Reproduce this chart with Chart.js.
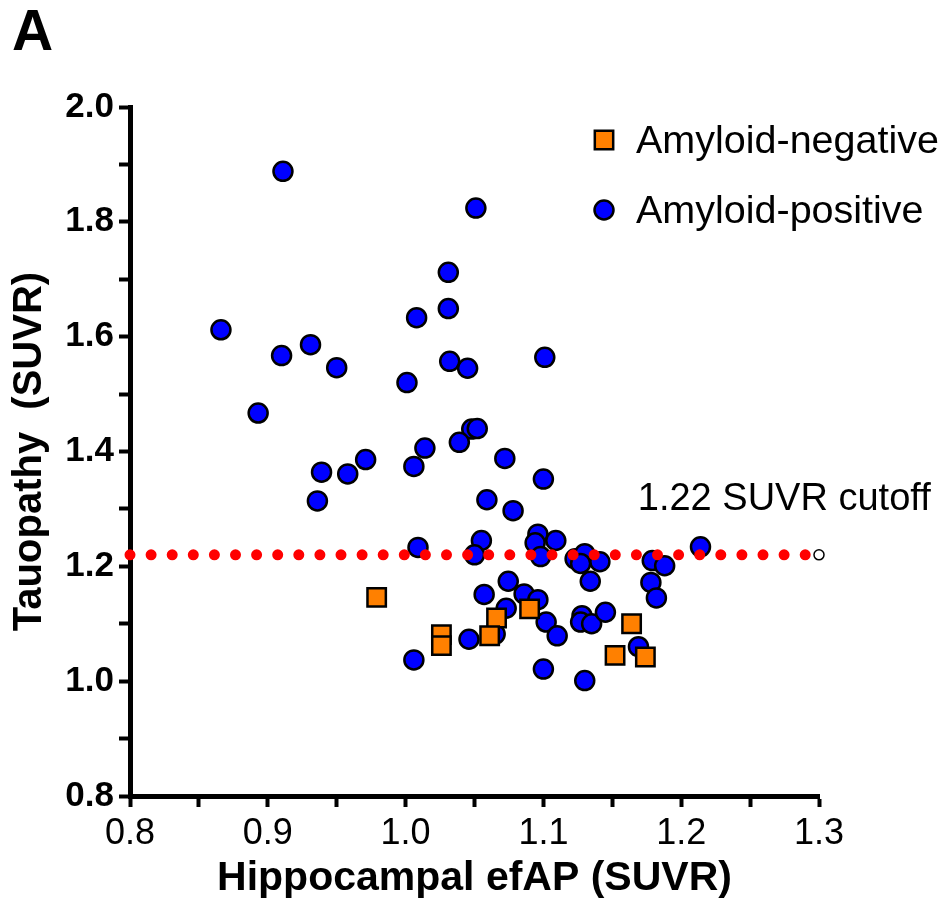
<!DOCTYPE html>
<html>
<head>
<meta charset="utf-8">
<script src="https://cdn.jsdelivr.net/npm/chart.js@4.4.0/dist/chart.umd.min.js"></script>
<style>
  html, body { margin: 0; padding: 0; background: #fff; }
  #wrap { width: 950px; height: 911px; }
</style>
</head>
<body>
<div id="wrap"><canvas id="chart" width="950" height="911"></canvas></div>
<script>
// values
const negLabel = 'Amyloid-negative';
const negX = [0.979, 1.026, 1.026, 1.066, 1.061, 1.090, 1.164, 1.152, 1.174];
const negY = [1.146, 1.081, 1.062, 1.110, 1.079, 1.126, 1.100, 1.045, 1.042];

const posLabel = 'Amyloid-positive';
const posX = [0.911, 0.866, 0.910, 0.931, 0.950, 0.893, 0.939, 0.958, 0.971, 0.936,
              1.001, 1.008, 1.031, 1.031, 1.032, 1.045, 1.051, 1.101, 1.048, 1.052,
              1.014, 1.039, 1.006, 1.072, 1.100, 1.059, 1.078, 1.009, 1.055, 1.050,
              1.096, 1.094, 1.109, 1.098, 1.123, 1.130, 1.127, 1.141, 1.134, 1.0745,
              1.057, 1.086, 1.096, 1.073, 1.065, 1.102, 1.110, 1.046, 1.006, 1.100,
              1.130, 1.128, 1.127, 1.135, 1.145, 1.179, 1.188, 1.178, 1.182, 1.169,
              1.214];
const posY = [1.888, 1.612, 1.567, 1.586, 1.546, 1.467, 1.364, 1.361, 1.386, 1.314,
              1.520, 1.633, 1.712, 1.649, 1.557, 1.545, 1.824, 1.564, 1.439, 1.440,
              1.406, 1.416, 1.374, 1.388, 1.352, 1.316, 1.297, 1.233, 1.245, 1.220,
              1.256, 1.241, 1.245, 1.217, 1.213, 1.222, 1.205, 1.208, 1.174, 1.174,
              1.151, 1.152, 1.142, 1.127, 1.082, 1.103, 1.079, 1.073, 1.037, 1.021,
              1.001, 1.114, 1.103, 1.100, 1.120, 1.210, 1.201, 1.172, 1.145, 1.060,
              1.234];

const cutoff = 1.22;
const cutoffX = [0.8, 1.3];
const cutoffLabel = '1.22 SUVR cutoff';

const xTicks = [0.8, 0.9, 1.0, 1.1, 1.2, 1.3];
const xMinorTicks = [0.85, 0.95, 1.05, 1.15, 1.25];
const yTicks = [0.8, 1.0, 1.2, 1.4, 1.6, 1.8, 2.0];
const yMinorTicks = [0.9, 1.1, 1.3, 1.5, 1.7, 1.9];

const FONT = '"Liberation Sans", Arial, sans-serif';

function toPoints(xs, ys) {
  return xs.map((x, i) => ({ x: x, y: ys[i] }));
}

function setTicks(major, minor) {
  return function (scale) {
    scale.ticks = major.concat(minor).sort((a, b) => a - b).map(v => ({ value: v }));
  };
}

function majorLabel(major) {
  return function (v) {
    return major.some(m => Math.abs(m - v) < 1e-6) ? v.toFixed(1) : '';
  };
}

// panel letter, cutoff text and the legend
const extras = {
  id: 'extras',
  afterDraw(chart) {
    const ctx = chart.ctx;
    const xs = chart.scales.x, ys = chart.scales.y;
    ctx.save();
    ctx.fillStyle = '#000';
    ctx.textAlign = 'left';
    ctx.textBaseline = 'alphabetic';

    ctx.font = 'bold 57px ' + FONT;
    ctx.fillText('A', 12, 50);

    ctx.font = '38px ' + FONT;
    ctx.fillText(cutoffLabel, xs.getPixelForValue(1.1685), ys.getPixelForValue(cutoff) - 45);

    // legend
    const rows = [chart.data.datasets[1], chart.data.datasets[2]];
    rows.forEach((ds, i) => {
      const y = 140 + i * 70;
      ctx.fillStyle = ds.backgroundColor;
      ctx.strokeStyle = ds.borderColor;
      ctx.lineWidth = ds.borderWidth;
      Chart.helpers.drawPoint(ctx, {
        pointStyle: ds.pointStyle, radius: ds.pointRadius, rotation: 0, borderWidth: ds.borderWidth
      }, 604, y);
      ctx.fillStyle = '#000';
      ctx.font = '39.5px ' + FONT;
      ctx.fillText(ds.label, 636, y + 13);
    });
    ctx.restore();
  }
};

new Chart(document.getElementById('chart'), {
  type: 'scatter',
  data: {
    datasets: [
      {
        type: 'line',
        label: 'cutoff',
        data: cutoffX.map(x => ({ x: x, y: cutoff })),
        borderColor: '#ff0000',
        borderWidth: 11,
        borderDash: [0, 21.1],
        borderCapStyle: 'round',
        pointRadius: [0, 5],
        pointBackgroundColor: '#fff',
        pointBorderColor: '#000',
        pointBorderWidth: 1.5,
        fill: false,
        clip: false,
        order: 0
      },
      {
        label: negLabel,
        data: toPoints(negX, negY),
        pointStyle: 'rect',
        pointRadius: 13,
        backgroundColor: '#ff8000',
        borderColor: '#000',
        borderWidth: 2.5,
        order: 1
      },
      {
        label: posLabel,
        data: toPoints(posX, posY),
        pointStyle: 'circle',
        pointRadius: 9.5,
        backgroundColor: '#0000ff',
        borderColor: '#000',
        borderWidth: 2.5,
        order: 2
      }
    ]
  },
  options: {
    responsive: false,
    animation: false,
    layout: { padding: { top: 107, right: 131, left: 0, bottom: 0 } },
    plugins: {
      legend: { display: false },
      tooltip: { enabled: false }
    },
    scales: {
      x: {
        type: 'linear',
        min: 0.8,
        max: 1.3,
        afterBuildTicks: setTicks(xTicks, xMinorTicks),
        afterFit(s) { s.height = 115; },
        border: { color: '#000', width: 5 },
        grid: { drawOnChartArea: false, tickLength: 11, tickWidth: 4, tickColor: '#000' },
        ticks: {
          autoSkip: false, maxRotation: 0, padding: 5, color: '#000',
          font: { family: FONT, size: 36 },
          callback: majorLabel(xTicks)
        },
        title: {
          display: true, text: 'Hippocampal efAP (SUVR)', color: '#000',
          font: { family: FONT, size: 41, weight: 'bold' },
          padding: { top: 0, bottom: 8 }
        }
      },
      y: {
        type: 'linear',
        min: 0.8,
        max: 2.0,
        afterBuildTicks: setTicks(yTicks, yMinorTicks),
        afterFit(s) { s.width = 130; },
        border: { color: '#000', width: 5 },
        grid: { drawOnChartArea: false, tickLength: 11, tickWidth: 4, tickColor: '#000' },
        ticks: {
          autoSkip: false, padding: 5, color: '#000',
          font: { family: FONT, size: 35, weight: 'bold' },
          callback: majorLabel(yTicks)
        },
        title: {
          display: true, text: 'Tauopathy  (SUVR)', color: '#000',
          font: { family: FONT, size: 40, weight: 'bold' },
          padding: { top: 6, bottom: 0 }
        }
      }
    }
  },
  plugins: [extras]
});
</script>
</body>
</html>
